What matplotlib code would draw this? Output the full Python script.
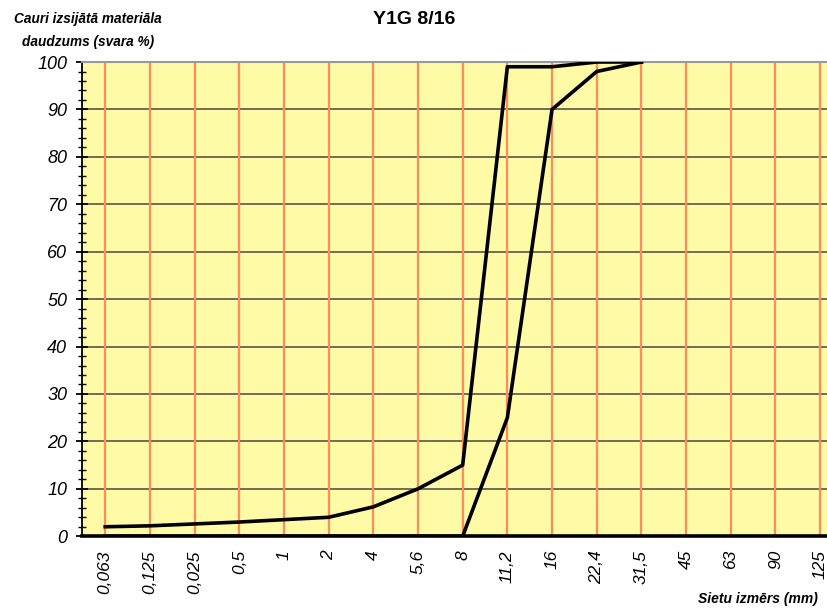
import numpy as np
import matplotlib.pyplot as plt
from matplotlib.ticker import MultipleLocator

plt.rcParams['font.family'] = ['Liberation Sans', 'DejaVu Sans']

# sieve sizes (mm) and passing fractions (% by mass)
sieves = ['0,063', '0,125', '0,025', '0,5', '1', '2', '4', '5,6', '8',
          '11,2', '16', '22,4', '31,5', '45', '63', '90', '125']
upper_limit = [2, 2.2, 2.6, 3, 3.5, 4, 6.2, 10, 15, 99, 99, 100, 100]
lower_limit = [0, 0, 0, 0, 0, 0, 0, 0, 0, 25, 90, 98, 100]

fig = plt.figure(figsize=(8.28, 6.08), dpi=100)
ax = fig.add_axes([0.099, 0.118, 0.905, 0.78])
ax.set_facecolor('#fffaa5')

x = np.arange(len(sieves))
for xi in x:
    ax.axvline(xi, color='#ff8a5c', lw=1.6, zorder=1)
ax.yaxis.grid(True, color='#6e6e58', lw=1.4, zorder=1)
ax.set_axisbelow(True)

ax.plot(x[:len(upper_limit)], upper_limit, color='black', lw=2.6, zorder=3)
ax.plot(x[:len(lower_limit)], lower_limit, color='black', lw=2.6, zorder=3)

ax.set_xlim(-0.52, 16.25)
ax.set_ylim(0, 100)
ax.set_xticks(x)
ax.set_xticklabels(sieves, rotation=90, fontsize=12.5, style='italic')
ax.tick_params(axis='x', length=0, pad=10)
ax.yaxis.set_major_locator(MultipleLocator(10))
ax.yaxis.set_minor_locator(MultipleLocator(2))
ax.tick_params(axis='y', which='major', direction='inout', length=9, width=1.3,
               labelsize=13, pad=6)
ax.tick_params(axis='y', which='minor', direction='inout', length=6, width=1.0)
for lbl in ax.get_yticklabels():
    lbl.set_style('italic')

ax.spines['left'].set_linewidth(1.3)
ax.spines['bottom'].set_linewidth(2.6)
ax.spines['top'].set_color('#999999')
ax.spines['top'].set_linewidth(1.5)
ax.spines['right'].set_visible(False)

fig.text(0.5, 0.968, 'Y1G 8/16', ha='center', va='center', fontsize=14,
         fontweight='bold')
fig.text(0.106, 0.95, 'Cauri izsijātā materiāla\ndaudzums (svara %)',
         ha='center', va='center', fontsize=9.8, fontweight='bold',
         style='italic', linespacing=1.75)
fig.text(0.988, 0.003, 'Sietu izmērs (mm)', ha='right', va='bottom',
         fontsize=10, fontweight='bold', style='italic')

fig.savefig('out.png', dpi=100)
